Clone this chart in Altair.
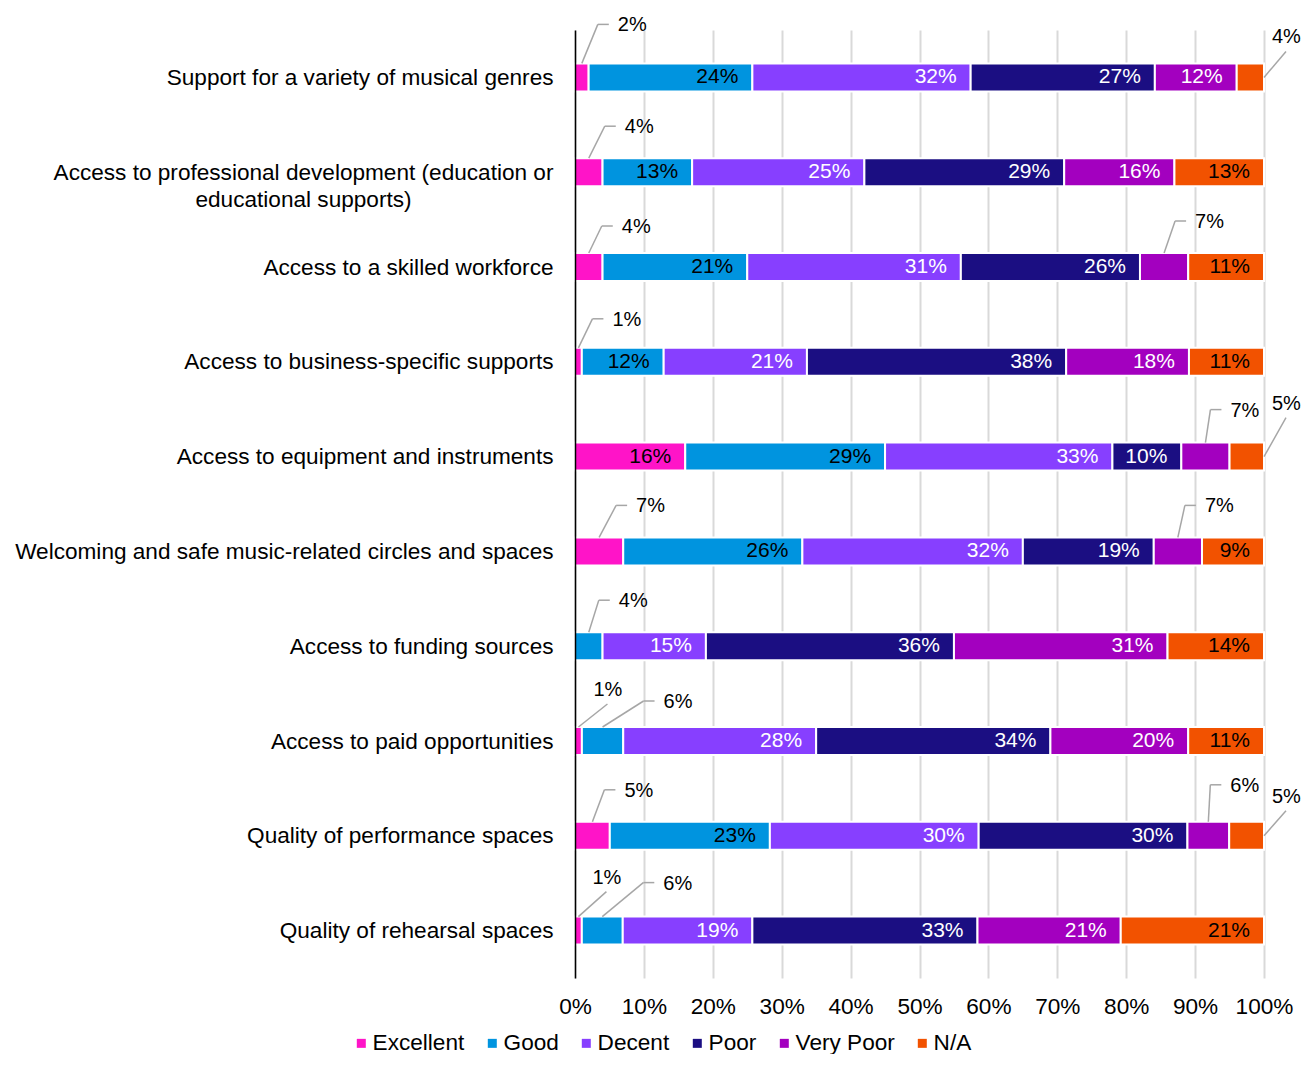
import json
import altair as alt
import pandas as pd

# ---------------- data ----------------
questions = [
    "Support for a variety of musical genres",
    "Access to professional development (education or educational supports)",
    "Access to a skilled workforce",
    "Access to business-specific supports",
    "Access to equipment and instruments",
    "Welcoming and safe music-related circles and spaces",
    "Access to funding sources",
    "Access to paid opportunities",
    "Quality of performance spaces",
    "Quality of rehearsal spaces",
]
categories = ["Excellent", "Good", "Decent", "Poor", "Very Poor", "N/A"]

excellent = [2, 4, 4, 1, 16, 7, 0, 1, 5, 1]
good = [24, 13, 21, 12, 29, 26, 4, 6, 23, 6]
decent = [32, 25, 31, 21, 33, 32, 15, 28, 30, 19]
poor = [27, 29, 26, 38, 10, 19, 36, 34, 30, 33]
very_poor = [12, 16, 7, 18, 7, 7, 31, 20, 6, 21]
not_applicable = [4, 13, 11, 11, 5, 9, 14, 11, 5, 21]

series = [excellent, good, decent, poor, very_poor, not_applicable]

# ---------------- style ----------------
colors = ["#FF14C8", "#0094DF", "#873FFF", "#1B0E82", "#A300BF", "#F25200"]
FONT = "Liberation Sans"
W = 689          # plot width  (px)
H = 948          # plot height (px)
STEP = H / len(questions)

# callout label offsets (px) for the small segments: kind, dx, dy
callout_style = {
    (0, "Excellent"): ("elbow", 36, -52),
    (0, "N/A"): ("edge", 8, -40),
    (1, "Excellent"): ("elbow", 36, -45),
    (2, "Excellent"): ("elbow", 33, -40),
    (2, "Very Poor"): ("elbow", 31, -45),
    (3, "Excellent"): ("elbow", 34, -42),
    (4, "Very Poor"): ("elbow", 25, -46),
    (4, "N/A"): ("edge", 8, -53),
    (5, "Excellent"): ("elbow", 37, -45),
    (5, "Very Poor"): ("elbow", 27, -45),
    (6, "Good"): ("elbow", 30, -45),
    (7, "Excellent"): ("straight", 15, -51),
    (7, "Good"): ("elbow", 61, -39),
    (8, "Excellent"): ("elbow", 32, -45),
    (8, "Very Poor"): ("elbow", 22, -50),
    (8, "N/A"): ("edge", 8, -39),
    (9, "Excellent"): ("straight", 14, -53),
    (9, "Good"): ("elbow", 61, -47),
}

# ---------------- table ----------------
rows = []
for qi, q in enumerate(questions):
    for ci, cat in enumerate(categories):
        kind, tdx, tdy = callout_style.get((qi, cat), ("", 0, 0))
        rows.append(dict(q_idx=qi, question=q, category=cat, c_idx=ci,
                         value=series[ci][qi], kind=kind, tdx=tdx, tdy=tdy))
df = pd.DataFrame(rows)

axis_labels = list(questions)
axis_labels[1] = "Access to professional development (education or|educational supports)"
label_expr = "split(" + json.dumps(axis_labels, ensure_ascii=False) + "[datum.value], '|')"

LABEL_FS = 22.6
xscale = alt.Scale(domain=[0, 1], nice=False, zero=True, padding=0)
yscale = alt.Scale(domain=[-0.5, len(questions) - 0.5], reverse=True, nice=False,
                   zero=False, padding=0)

xaxis = alt.Axis(values=[i / 10 for i in range(11)], format=".0%", grid=True,
                 gridColor="#d9d9d9", gridWidth=2, domain=False, ticks=False,
                 tickSize=0, labelPadding=17, labelFontSize=LABEL_FS, labelColor="black",
                 labelFlush=False, labelFont=FONT, title=None)
yaxis = alt.Axis(values=list(range(len(questions))), labelExpr=label_expr,
                 ticks=False, tickSize=0, grid=False, domain=True,
                 domainColor="black", domainWidth=1.5,
                 labelPadding={"condition": {"test": "datum.value == 1", "value": 272},
                               "value": 22},
                 labelAlign={"condition": {"test": "datum.value == 1", "value": "center"},
                             "value": "right"},
                 labelFontSize=LABEL_FS, labelColor="black", labelLineHeight=27,
                 labelLimit=700, labelFlush=False, labelOverlap=False,
                 labelFont=FONT, zindex=1, title=None)

base = (
    alt.Chart(df)
    .transform_stack(stack="value", groupby=["q_idx"],
                     sort=[alt.SortField("c_idx", order="ascending")],
                     offset="normalize", as_=["x0", "x1"])
    .transform_calculate(mid="(datum.x0 + datum.x1) / 2")
)

bars = base.transform_filter("datum.value > 0").mark_bar(
    size=28, stroke="white", strokeWidth=2
).encode(
    x=alt.X("x0:Q", scale=xscale, axis=xaxis),
    x2="x1:Q",
    y=alt.Y("q_idx:Q", scale=yscale, axis=yaxis),
    color=alt.Color("category:N", scale=alt.Scale(domain=categories, range=colors),
                    sort=categories,
                    legend=alt.Legend(title=None, orient="none", legendX=-225, legendY=1002,
                                      direction="horizontal", symbolType="square",
                                      symbolSize=81, symbolStrokeWidth=0,
                                      labelFontSize=LABEL_FS, labelColor="black",
                                      labelFont=FONT, labelOffset=0,
                                      columnPadding=16, labelLimit=300)),
)

inside = base.transform_filter("datum.value >= 9").transform_calculate(
    lbl="datum.value + '%'",
    tcol="indexof(['Decent','Poor','Very Poor'], datum.category) >= 0 ? 'white' : 'black'",
).mark_text(align="right", baseline="middle", dx=-14, fontSize=21, font=FONT).encode(
    x=alt.X("x1:Q", scale=xscale, axis=xaxis),
    y=alt.Y("q_idx:Q", scale=yscale, axis=yaxis),
    text="lbl:N",
    color=alt.Color("tcol:N", scale=None),
)

callouts = base.transform_filter("datum.kind != ''").transform_calculate(
    lbl="datum.value + '%'",
    ax="datum.kind == 'edge' ? datum.x1 : datum.mid",
).transform_calculate(
    sy=f"datum.kind == 'edge' ? datum.q_idx : datum.q_idx - 14 / {STEP}",
    tx=f"datum.ax + datum.tdx / {W}",
    ty=f"datum.q_idx + datum.tdy / {STEP}",
).transform_calculate(
    ex=f"datum.kind == 'elbow' ? datum.tx - 20 / {W} : datum.tx + 14 / {W}",
    ey=f"datum.kind == 'elbow' ? datum.ty - 1 / {STEP} : datum.ty + 14 / {STEP}",
    shx=f"datum.tx - 9 / {W}",
)

call_text = callouts.mark_text(align="left", baseline="middle", fontSize=20,
                               font=FONT, color="black").encode(
    x=alt.X("tx:Q", scale=xscale, axis=xaxis),
    y=alt.Y("ty:Q", scale=yscale, axis=yaxis),
    text="lbl:N",
)

leader = callouts.mark_rule(color="#a6a6a6", strokeWidth=1.5).encode(
    x=alt.X("ax:Q", scale=xscale, axis=xaxis),
    y=alt.Y("sy:Q", scale=yscale, axis=yaxis),
    x2="ex:Q",
    y2="ey:Q",
)

shoulder = callouts.transform_filter("datum.kind == 'elbow'").mark_rule(
    color="#a6a6a6", strokeWidth=1.5
).encode(
    x=alt.X("ex:Q", scale=xscale, axis=xaxis),
    x2="shx:Q",
    y=alt.Y("ey:Q", scale=yscale, axis=yaxis),
)

chart = (
    alt.layer(bars, inside, leader, shoulder, call_text)
    .properties(width=W, height=H, autosize=alt.AutoSizeParams(type="none"),
                padding={"left": 567, "top": 22, "right": 38, "bottom": 76})
    .configure(font=FONT, background="white")
    .configure_view(stroke=None)
)

chart.save("out.html", embed_options={"renderer": "svg", "actions": False})
